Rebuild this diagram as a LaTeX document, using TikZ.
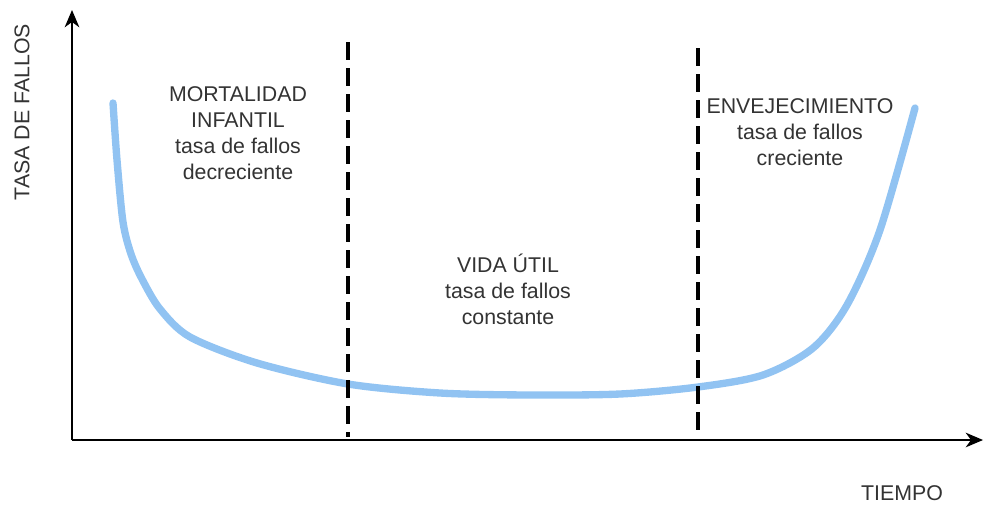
\documentclass[tikz,border=0pt]{standalone}
\usepackage{fontspec}
\setmainfont{Liberation Sans}
\usepackage{tikz}
\usetikzlibrary{arrows.meta}
\definecolor{curveblue}{RGB}{145,195,242}
\tikzstyle{axis}   = [line width=1pt,-{Stealth[length=13pt,width=11pt,inset=4pt]}]
\tikzstyle{border} = [line width=2.6pt, dash pattern=on 13.5pt off 6pt]
\tikzstyle{phase}  = [text centered, align=center, text=black!80,
                      font=\fontsize{16}{19.5}\selectfont]
\tikzstyle{label}  = [text=black!80, font=\fontsize{16}{19}\selectfont]
\tikzstyle{rate}   = [line width=5.5pt, color=curveblue, line cap=round]

\begin{document}
\begin{tikzpicture}[x=0.75pt, y=-0.75pt]
\useasboundingbox (0,0) rectangle (984,507);
\coordinate (o)    at (72,440);
\coordinate (ytop) at (72,10);
\coordinate (xend) at (983,440);
\coordinate (m1)   at (348,42);
\coordinate (m1b)  at (348,437);
\coordinate (m2)   at (698,48);
\coordinate (m2b)  at (698,437);

\node (yl)  [label, rotate=90] at (22,112)  {TASA DE FALLOS};
\node (xl)  [label]            at (902,493) {TIEMPO};
\node (inf) [phase] at (238,133) {MORTALIDAD\\INFANTIL\\tasa de fallos\\decreciente};
\node (vid) [phase] at (508,289) {VIDA ÚTIL\\tasa de fallos\\constante};
\node (env) [phase] at (800,132) {ENVEJECIMIENTO\\tasa de fallos\\creciente};

% bathtub curve
\draw [rate] plot [smooth, tension=0.5] coordinates {
  (113,103) (117,160) (123,222) (131,254) (142,279) (160,309) (190,337)
  (257,363) (348,384) (440,393) (530,395) (620,394) (698,387)
  (763,375) (813,348) (847,305) (880,230) (915,108)};

\draw [border] (m1) -- (m1b);
\draw [border] (m2) -- (m2b);
\draw [axis] (o) -- (ytop);
\draw [axis] (o) -- (xend);
\end{tikzpicture}
\end{document}
